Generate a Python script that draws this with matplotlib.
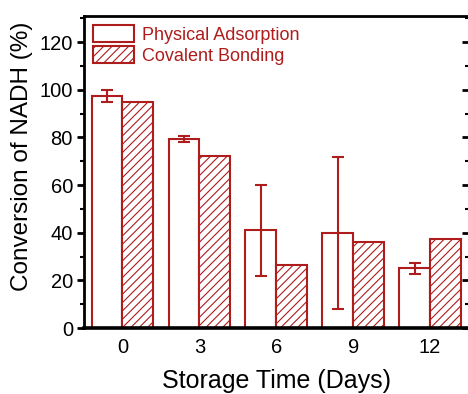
import matplotlib
matplotlib.use("Agg")
import matplotlib.pyplot as plt
from matplotlib.lines import TICKLEFT
import numpy as np

plt.rcParams['font.family'] = ['Liberation Sans', 'DejaVu Sans']
plt.rcParams['hatch.linewidth'] = 0.8

days = ['0', '3', '6', '9', '12']
physical = [97.5, 79.3, 41.0, 39.8, 25.0]
physical_err = [2.5, 1.2, 19.0, 32.0, 2.5]
covalent = [94.9, 72.2, 26.5, 35.9, 37.5]

red = '#AE1C1C'

fig = plt.figure(figsize=(4.68, 3.94), dpi=100)
ax = fig.add_axes([84/468, 1-328/394, (468.5-84)/468, (328-16)/394])

x = np.arange(len(days))
w = 0.4
ax.bar(x - w/2, physical, w, facecolor='white', edgecolor=red, linewidth=1.5,
       label='Physical Adsorption', zorder=2)
ax.bar(x + w/2, covalent, w, facecolor='white', edgecolor=red, linewidth=1.5,
       hatch='////', label='Covalent Bonding', zorder=2)
ax.errorbar(x - w/2, physical, yerr=physical_err, fmt='none', ecolor=red,
            elinewidth=1.5, capsize=4.5, capthick=1.5, zorder=3)

ax.set_xlim(-0.5, 4.5)
ax.set_ylim(0, 131)
ax.set_xticks(x)
ax.set_xticklabels(days)
ax.set_yticks(np.arange(0, 121, 20))
ax.set_yticks(np.arange(10, 131, 20), minor=True)

ax.spines['left'].set_linewidth(2)
ax.spines['top'].set_linewidth(2)
ax.spines['bottom'].set_linewidth(2.6)
ax.spines['right'].set_visible(False)

ax.tick_params(axis='y', which='major', direction='out', length=5, width=2,
               labelsize=14.5, right=True, pad=3)
ax.tick_params(axis='y', which='minor', direction='out', length=3, width=1.5, right=True)
ax.tick_params(axis='x', which='both', length=0, labelsize=14.5, pad=7)
for t in ax.yaxis.get_major_ticks() + ax.yaxis.get_minor_ticks():
    t.tick2line.set_marker(TICKLEFT)

ax.set_xlabel('Storage Time (Days)', fontsize=18, labelpad=9)
ax.set_ylabel('Conversion of NADH (%)', fontsize=17.5)
ax.yaxis.set_label_coords(-0.132, 0.55)

leg = ax.legend(loc='upper left', bbox_to_anchor=(0.0, 1.0), frameon=False,
                fontsize=13, handlelength=2.27, handleheight=1.1,
                handletextpad=0.45, labelspacing=0.12, borderaxespad=0.3,
                borderpad=0.2)
for t in leg.get_texts():
    t.set_color(red)

fig.savefig('out.png', dpi=100)
